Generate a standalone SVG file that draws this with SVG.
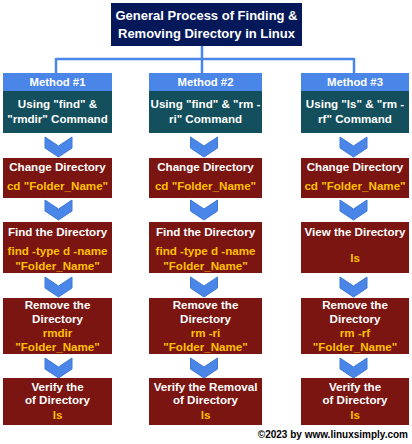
<svg xmlns="http://www.w3.org/2000/svg" width="412" height="444" viewBox="0 0 412 444">
<style>
text{font-family:"Liberation Sans",Arial,sans-serif;font-weight:bold;text-anchor:middle}
.t{fill:#ffffff;font-size:13px}
.w{fill:#ffffff;font-size:11.6px}
.o{fill:#ffc000;font-size:11.6px}
.m{fill:#ffffff;font-size:11.3px}
.hdr{fill:#4a86e8}
.teal{fill:#134f5c}
.red{fill:#7b1511}
.chev{fill:#4a86e8;stroke:#3c78d8;stroke-width:1}
.conn{stroke:#4a86e8;stroke-width:2.5;fill:none}
</style>
<defs>
<polygon id="chev" points="-13.5,0 0,9 13.5,0 13.5,11 0,20 -13.5,11"/>
</defs>
<rect width="412" height="444" fill="#ffffff"/>
<g id="connectors">
<path class="conn" d="M202,46 V59 M56,59 H354 M56,58 V73 M202,58 V73 M354,58 V73"/>
<use href="#chev" class="chev" x="58.5" y="137"/>
<use href="#chev" class="chev" x="58.5" y="200"/>
<use href="#chev" class="chev" x="58.5" y="277"/>
<use href="#chev" class="chev" x="58.5" y="358"/>
<use href="#chev" class="chev" x="204" y="137"/>
<use href="#chev" class="chev" x="204" y="200"/>
<use href="#chev" class="chev" x="204" y="277"/>
<use href="#chev" class="chev" x="204" y="358"/>
<use href="#chev" class="chev" x="353.5" y="137"/>
<use href="#chev" class="chev" x="353.5" y="200"/>
<use href="#chev" class="chev" x="353.5" y="277"/>
<use href="#chev" class="chev" x="353.5" y="358"/>
</g>
<g id="title">
<rect x="111" y="3" width="191" height="43" fill="#05195a"/>
<text class="t" x="206.5" y="20">General Process of Finding &amp;</text>
<text class="t" x="206.5" y="38">Removing Directory in Linux</text>
</g>
<g id="method1">
<rect class="hdr" x="3" y="73" width="109" height="18"/>
<text class="m" x="57.5" y="86">Method #1</text>
<rect class="teal" x="3" y="91" width="109" height="42"/>
<text class="w" x="57.5" y="108">Using "find" &amp;</text>
<text class="w" x="57.5" y="123">"rmdir" Command</text>
</g>
<g id="method2">
<rect class="hdr" x="149" y="73" width="113" height="18"/>
<text class="m" x="205.5" y="86">Method #2</text>
<rect class="teal" x="149" y="91" width="113" height="42"/>
<text class="w" x="205.5" y="108">Using "find" &amp; "rm -</text>
<text class="w" x="205.5" y="123">ri" Command</text>
</g>
<g id="method3">
<rect class="hdr" x="301" y="73" width="108" height="18"/>
<text class="m" x="355" y="86">Method #3</text>
<rect class="teal" x="301" y="91" width="108" height="42"/>
<text class="w" x="355" y="108">Using "ls" &amp; "rm -</text>
<text class="w" x="355" y="123">rf" Command</text>
</g>
<g id="m1-change">
<rect class="red" x="3" y="158" width="109" height="40"/>
<text class="w" x="57.5" y="171">Change Directory</text>
<text class="o" x="57.5" y="190">cd "Folder_Name"</text>
</g>
<g id="m2-change">
<rect class="red" x="149" y="158" width="113" height="40"/>
<text class="w" x="205.5" y="171">Change Directory</text>
<text class="o" x="205.5" y="190">cd "Folder_Name"</text>
</g>
<g id="m3-change">
<rect class="red" x="301" y="158" width="108" height="40"/>
<text class="w" x="355" y="171">Change Directory</text>
<text class="o" x="355" y="190">cd "Folder_Name"</text>
</g>
<g id="m1-find">
<rect class="red" x="3" y="222" width="109" height="51"/>
<text class="w" x="57.5" y="236">Find the Directory</text>
<text class="o" x="57.5" y="255">find -type d -name</text>
<text class="o" x="57.5" y="270">"Folder_Name"</text>
</g>
<g id="m2-find">
<rect class="red" x="149" y="222" width="113" height="51"/>
<text class="w" x="205.5" y="236">Find the Directory</text>
<text class="o" x="205.5" y="255">find -type d -name</text>
<text class="o" x="205.5" y="270">"Folder_Name"</text>
</g>
<g id="m3-view">
<rect class="red" x="301" y="222" width="108" height="51"/>
<text class="w" x="355" y="236">View the Directory</text>
<text class="o" x="355" y="262">ls</text>
</g>
<g id="m1-remove">
<rect class="red" x="3" y="298" width="109" height="56"/>
<text class="w" x="57.5" y="309">Remove the</text>
<text class="w" x="57.5" y="323">Directory</text>
<text class="o" x="57.5" y="337">rmdir</text>
<text class="o" x="57.5" y="351">"Folder_Name"</text>
</g>
<g id="m2-remove">
<rect class="red" x="149" y="298" width="113" height="56"/>
<text class="w" x="205.5" y="309">Remove the</text>
<text class="w" x="205.5" y="323">Directory</text>
<text class="o" x="205.5" y="337">rm -ri</text>
<text class="o" x="205.5" y="351">"Folder_Name"</text>
</g>
<g id="m3-remove">
<rect class="red" x="301" y="298" width="108" height="56"/>
<text class="w" x="355" y="309">Remove the</text>
<text class="w" x="355" y="323">Directory</text>
<text class="o" x="355" y="337">rm -rf</text>
<text class="o" x="355" y="351">"Folder_Name"</text>
</g>
<g id="m1-verify">
<rect class="red" x="3" y="378" width="109" height="47"/>
<text class="w" x="57.5" y="391">Verify the</text>
<text class="w" x="57.5" y="404">of Directory</text>
<text class="o" x="57.5" y="419">ls</text>
</g>
<g id="m2-verify">
<rect class="red" x="149" y="378" width="113" height="47"/>
<text class="w" x="205.5" y="391">Verify the Removal</text>
<text class="w" x="205.5" y="404">of Directory</text>
<text class="o" x="205.5" y="419">ls</text>
</g>
<g id="m3-verify">
<rect class="red" x="301" y="378" width="108" height="47"/>
<text class="w" x="355" y="391">Verify the</text>
<text class="w" x="355" y="404">of Directory</text>
<text class="o" x="355" y="419">ls</text>
</g>
<text x="408" y="438" style="text-anchor:end;font-size:10px;fill:#000000">©2023 by www.linuxsimply.com</text>
</svg>
